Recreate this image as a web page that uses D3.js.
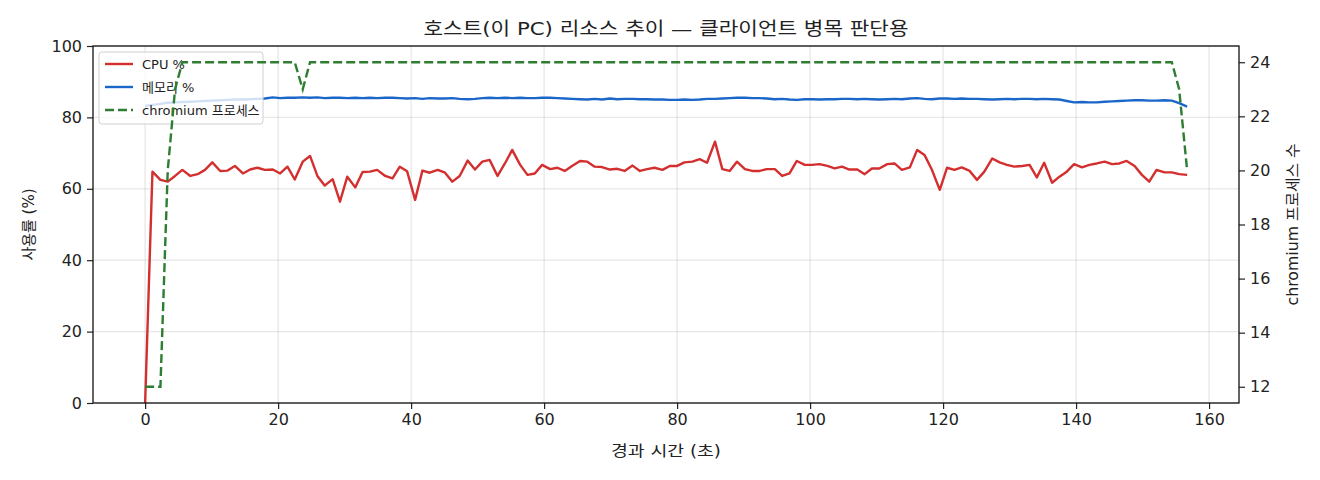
<!DOCTYPE html>
<html>
<head>
    <meta charset="utf-8">
    <title>호스트 리소스 추이</title>
    <script src="https://d3js.org/d3.v7.min.js"></script>
    <style>
        body { margin: 0; background: #fff; }
        text { font-family: "DejaVu Sans", "Noto Sans CJK KR", sans-serif; fill: #222; }
    </style>
</head>

<body>
<div id="chart"></div>
<script type="text/javascript">

// sample times (s)
var times = [0.0, 1.1, 2.3, 3.4, 4.5, 5.6, 6.8, 7.9, 9.0, 10.1,
    11.3, 12.4, 13.5, 14.7, 15.8, 16.9, 18.0, 19.2, 20.3, 21.4,
    22.5, 23.7, 24.8, 25.9, 27.0, 28.2, 29.3, 30.4, 31.6, 32.7,
    33.8, 34.9, 36.1, 37.2, 38.3, 39.4, 40.6, 41.7, 42.8, 44.0,
    45.1, 46.2, 47.3, 48.5, 49.6, 50.7, 51.8, 53.0, 54.1, 55.2,
    56.4, 57.5, 58.6, 59.7, 60.9, 62.0, 63.1, 64.2, 65.4, 66.5,
    67.6, 68.7, 69.9, 71.0, 72.1, 73.3, 74.4, 75.5, 76.6, 77.8,
    78.9, 80.0, 81.1, 82.3, 83.4, 84.5, 85.7, 86.8, 87.9, 89.0,
    90.2, 91.3, 92.4, 93.5, 94.7, 95.8, 96.9, 98.0, 99.2, 100.3,
    101.4, 102.6, 103.7, 104.8, 105.9, 107.1, 108.2, 109.3, 110.4, 111.6,
    112.7, 113.8, 115.0, 116.1, 117.2, 118.3, 119.5, 120.6, 121.7, 122.8,
    124.0, 125.1, 126.2, 127.4, 128.5, 129.6, 130.7, 131.9, 133.0, 134.1,
    135.2, 136.4, 137.5, 138.6, 139.7, 140.9, 142.0, 143.1, 144.3, 145.4,
    146.5, 147.6, 148.8, 149.9, 151.0, 152.1, 153.3, 154.4, 155.5, 156.7];

var cpu = [0, 64.8, 62.5, 62.0, 63.6, 65.3, 63.6, 64.1, 65.3, 67.4,
    65.0, 65.1, 66.4, 64.3, 65.4, 65.9, 65.3, 65.4, 64.3, 66.2,
    62.6, 67.6, 69.2, 63.6, 60.9, 62.7, 56.4, 63.4, 60.4, 64.7,
    64.8, 65.3, 63.6, 62.9, 66.2, 64.9, 56.9, 65.1, 64.5, 65.3,
    64.5, 62.0, 63.6, 67.9, 65.4, 67.6, 68.1, 63.6, 67.1, 70.9,
    66.7, 63.9, 64.3, 66.7, 65.5, 65.9, 65.0, 66.4, 67.8, 67.6,
    66.2, 66.1, 65.4, 65.6, 65.0, 66.5, 65.0, 65.5, 65.9, 65.3,
    66.4, 66.4, 67.4, 67.6, 68.3, 67.3, 73.2, 65.5, 65.0, 67.6,
    65.5, 65.0, 65.0, 65.5, 65.5, 63.6, 64.3, 67.8, 66.7, 66.7,
    66.9, 66.4, 65.7, 66.2, 65.4, 65.4, 64.1, 65.7, 65.7, 66.9,
    67.1, 65.3, 66.0, 70.9, 69.5, 65.4, 59.7, 65.9, 65.3, 66.0,
    65.0, 62.5, 64.8, 68.5, 67.4, 66.7, 66.2, 66.4, 66.7, 63.2,
    67.3, 61.7, 63.4, 64.8, 66.9, 66.0, 66.7, 67.1, 67.6, 66.9,
    67.1, 67.8, 66.4, 63.9, 62.0, 65.3, 64.6, 64.6, 64.1, 63.9];

var mem = [83.2, 83.5, 83.8, 84.1, 84.2, 84.3, 84.4, 84.5, 84.6, 84.7,
    84.8, 84.9, 85.0, 85.0, 85.1, 85.2, 85.3, 85.6, 85.4, 85.5,
    85.5, 85.6, 85.5, 85.6, 85.4, 85.5, 85.5, 85.4, 85.5, 85.4,
    85.5, 85.4, 85.5, 85.5, 85.4, 85.3, 85.4, 85.2, 85.4, 85.3,
    85.3, 85.4, 85.2, 85.1, 85.2, 85.4, 85.5, 85.4, 85.5, 85.4,
    85.5, 85.4, 85.4, 85.5, 85.5, 85.4, 85.3, 85.2, 85.1, 85.0,
    85.2, 85.0, 85.3, 85.1, 85.2, 85.2, 85.1, 85.1, 85.0, 85.0,
    84.9, 84.9, 85.0, 84.9, 85.0, 85.2, 85.2, 85.3, 85.4, 85.5,
    85.5, 85.4, 85.4, 85.3, 85.1, 85.2, 85.0, 84.9, 85.1, 85.1,
    85.0, 85.1, 85.1, 85.2, 85.2, 85.1, 85.2, 85.1, 85.0, 85.1,
    85.2, 85.1, 85.3, 85.4, 85.2, 85.1, 85.3, 85.3, 85.2, 85.3,
    85.2, 85.2, 85.1, 85.0, 85.1, 85.2, 85.1, 85.2, 85.2, 85.1,
    85.2, 85.1, 85.0, 84.6, 84.2, 84.3, 84.2, 84.2, 84.4, 84.5,
    84.6, 84.7, 84.8, 84.8, 84.7, 84.7, 84.8, 84.7, 84.0, 83.0];

var chromium = [12, 12, 12, 20, 23, 24, 24, 24, 24, 24,
    24, 24, 24, 24, 24, 24, 24, 24, 24, 24,
    24, 23, 24, 24, 24, 24, 24, 24, 24, 24,
    24, 24, 24, 24, 24, 24, 24, 24, 24, 24,
    24, 24, 24, 24, 24, 24, 24, 24, 24, 24,
    24, 24, 24, 24, 24, 24, 24, 24, 24, 24,
    24, 24, 24, 24, 24, 24, 24, 24, 24, 24,
    24, 24, 24, 24, 24, 24, 24, 24, 24, 24,
    24, 24, 24, 24, 24, 24, 24, 24, 24, 24,
    24, 24, 24, 24, 24, 24, 24, 24, 24, 24,
    24, 24, 24, 24, 24, 24, 24, 24, 24, 24,
    24, 24, 24, 24, 24, 24, 24, 24, 24, 24,
    24, 24, 24, 24, 24, 24, 24, 24, 24, 24,
    24, 24, 24, 24, 24, 24, 24, 24, 23, 20];

var xTicks = [0, 20, 40, 60, 80, 100, 120, 140, 160];
var yTicks = [0, 20, 40, 60, 80, 100];
var y2Ticks = [12, 14, 16, 18, 20, 22, 24];

var title = "호스트(이 PC) 리소스 추이 — 클라이언트 병목 판단용";
var legendNames = ["CPU %", "메모리 %", "chromium 프로세스"];

var colors = { cpu: "#d32f2f", mem: "#1a67c9", chr: "#2e7d32" };

let margin = {top: 46, bottom: 77, right: 81, left: 93};
var width = 1320 - margin.left - margin.right;
var height = 480 - margin.top - margin.bottom;

let scalex = d3.scaleLinear().domain([-7.84, 164.5]).range([0, width]);
let scaley = d3.scaleLinear().domain([0, 100]).range([height, 0]);
let scaley2 = d3.scaleLinear().domain([11.4, 24.6]).range([height, 0]);

let svg = d3.select("#chart").append("svg")
    .attr("width", 1320)
    .attr("height", 480)
    .append("g")
    .attr("transform", "translate(" + margin.left + "," + margin.top + ")");

// grid
svg.append("g").selectAll("line").data(xTicks).enter().append("line")
    .attr("x1", d => scalex(d)).attr("x2", d => scalex(d))
    .attr("y1", 0).attr("y2", height)
    .attr("stroke", "#b0b0b0").attr("stroke-opacity", 0.3).attr("stroke-width", 1.3);
svg.append("g").selectAll("line").data(yTicks).enter().append("line")
    .attr("x1", 0).attr("x2", width)
    .attr("y1", d => scaley(d)).attr("y2", d => scaley(d))
    .attr("stroke", "#b0b0b0").attr("stroke-opacity", 0.3).attr("stroke-width", 1.3);

let idx = d3.range(times.length);

let cpuLine = d3.line().x(i => scalex(times[i])).y(i => scaley(cpu[i]));
let memLine = d3.line().x(i => scalex(times[i])).y(i => scaley(mem[i]));
let chrLine = d3.line().x(i => scalex(times[i])).y(i => scaley2(chromium[i]));

svg.append("path").datum(idx)
    .attr("d", cpuLine).attr("fill", "none")
    .attr("stroke", colors.cpu).attr("stroke-width", 2.4).attr("stroke-linejoin", "round");
svg.append("path").datum(idx)
    .attr("d", memLine).attr("fill", "none")
    .attr("stroke", colors.mem).attr("stroke-width", 2.4).attr("stroke-linejoin", "round");

// legend (sits under the twin-axis line)
let lg = svg.append("g").attr("transform", "translate(6,6)");
lg.append("rect")
    .attr("width", 164).attr("height", 72).attr("rx", 3)
    .attr("fill", "#fff").attr("fill-opacity", 0.8)
    .attr("stroke", "#d0d0d0");
let lgColors = [colors.cpu, colors.mem, colors.chr];
legendNames.forEach(function(name, i){
    let yy = 12 + i * 23;
    lg.append("line")
        .attr("x1", 6).attr("x2", 34).attr("y1", yy).attr("y2", yy)
        .attr("stroke", lgColors[i]).attr("stroke-width", 2.4)
        .attr("stroke-dasharray", i == 2 ? "9,4" : null);
    lg.append("text")
        .attr("x", 43).attr("y", yy + 5)
        .attr("font-size", "13px")
        .text(name);
});

svg.append("path").datum(idx)
    .attr("d", chrLine).attr("fill", "none")
    .attr("stroke", colors.chr).attr("stroke-width", 2.4)
    .attr("stroke-dasharray", "9,4");

// axes
let axisX = d3.axisBottom(scalex).tickValues(xTicks).tickSize(6).tickPadding(5);
let axisY = d3.axisLeft(scaley).tickValues(yTicks).tickSize(6).tickPadding(5);
let axisY2 = d3.axisRight(scaley2).tickValues(y2Ticks).tickSize(6).tickPadding(5);

let gx = svg.append("g").attr("transform", "translate(0," + height + ")").call(axisX);
let gy = svg.append("g").call(axisY);
let gy2 = svg.append("g").attr("transform", "translate(" + width + ",0)").call(axisY2);
[gx, gy, gy2].forEach(function(g){
    g.select(".domain").remove();
    g.selectAll("text").attr("font-size", "16px").attr("font-family", "DejaVu Sans").attr("fill", "#222");
    g.selectAll("line").attr("stroke", "#222").attr("stroke-width", 1.2);
});

svg.append("rect")
    .attr("width", width).attr("height", height)
    .attr("fill", "none").attr("stroke", "#111").attr("stroke-width", 1.3);

// labels
svg.append("text")
    .attr("x", width / 2).attr("y", -11)
    .style("text-anchor", "middle")
    .attr("font-size", "18px")
    .attr("textLength", 485).attr("lengthAdjust", "spacingAndGlyphs")
    .text(title);

svg.append("text")
    .attr("x", width / 2).attr("y", height + 53)
    .style("text-anchor", "middle")
    .attr("font-size", "15px")
    .attr("textLength", 110).attr("lengthAdjust", "spacingAndGlyphs")
    .text("경과 시간 (초)");

svg.append("text")
    .attr("transform", "rotate(-90)")
    .attr("x", -height / 2).attr("y", -59)
    .style("text-anchor", "middle")
    .attr("font-size", "15px")
    .text("사용률 (%)");

svg.append("text")
    .attr("transform", "translate(" + (width + 59) + "," + (height / 2) + ") rotate(-90)")
    .style("text-anchor", "middle")
    .attr("font-size", "15px")
    .attr("textLength", 162).attr("lengthAdjust", "spacingAndGlyphs")
    .text("chromium 프로세스 수");

</script>
</body>
</html>
